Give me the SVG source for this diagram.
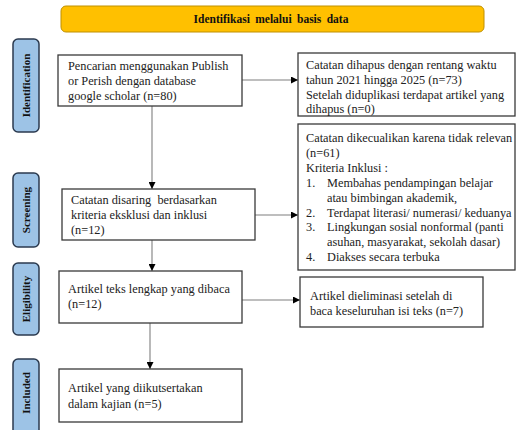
<svg xmlns="http://www.w3.org/2000/svg" width="519" height="430" viewBox="0 0 519 430">
<style>
.box{fill:#fff;stroke:#3a3a3a;stroke-width:1.3}
.side{fill:#9dc3e6;stroke:#2b3a4f;stroke-width:1.5}
.t{font-family:'Liberation Serif','Times New Roman',serif;font-size:12.3px;fill:#222}
.sl{font-family:'Liberation Serif','Times New Roman',serif;font-size:11px;font-weight:bold;fill:#111}
.bn{font-family:'Liberation Serif','Times New Roman',serif;font-size:11.5px;font-weight:bold;fill:#111}
.con{stroke:#7f7f7f;stroke-width:1.1;fill:none}
</style>
<defs>
<marker id="ah" viewBox="0 0 10 10" refX="10" refY="5" markerWidth="7" markerHeight="7" markerUnits="userSpaceOnUse" orient="auto">
<path d="M0,0 L10,5 L0,10 z" fill="#000"/>
</marker>
</defs>
<rect width="519" height="430" fill="#fff"/>
<g id="banner">
<rect x="61" y="6" width="423" height="26" rx="5" fill="#ffc000" stroke="#bf9000" stroke-width="1"/>
<text class="bn" x="271" y="23" text-anchor="middle" word-spacing="2.5">Identifikasi melalui basis data</text>
</g>
<g id="side-identification">
<rect class="side" x="13" y="39" width="26" height="93" rx="5"/>
<text class="sl" transform="translate(30,85.5) rotate(-90)" text-anchor="middle">Identification</text>
</g>
<g id="side-screening">
<rect class="side" x="13" y="173" width="26" height="74" rx="5"/>
<text class="sl" transform="translate(30,210) rotate(-90)" text-anchor="middle">Screening</text>
</g>
<g id="side-eligibility">
<rect class="side" x="13" y="263" width="26" height="72" rx="5"/>
<text class="sl" transform="translate(30,299) rotate(-90)" text-anchor="middle">Eligibility</text>
</g>
<g id="side-included">
<rect class="side" x="13" y="359" width="26" height="85" rx="5"/>
<text class="sl" transform="translate(30,393) rotate(-90)" text-anchor="middle">Included</text>
</g>
<g id="connectors">
<line class="con" x1="242" y1="80" x2="298" y2="80" marker-end="url(#ah)"/>
<line class="con" x1="152" y1="106" x2="152" y2="189" marker-end="url(#ah)"/>
<line class="con" x1="255" y1="215" x2="298" y2="215" marker-end="url(#ah)"/>
<line class="con" x1="152" y1="240" x2="152" y2="271" marker-end="url(#ah)"/>
<line class="con" x1="242" y1="300" x2="300" y2="300" marker-end="url(#ah)"/>
<line class="con" x1="150" y1="323" x2="150" y2="369" marker-end="url(#ah)"/>
</g>
<g id="search">
<rect class="box" x="58" y="55" width="184" height="51"/>
<text class="t" x="68" y="69.5">Pencarian menggunakan Publish</text>
<text class="t" x="68" y="84.5">or Perish dengan database</text>
<text class="t" x="68" y="99.5">google scholar (n=80)</text>
</g>
<g id="removed">
<rect class="box" x="298" y="53" width="217" height="63"/>
<text class="t" x="306" y="68.5">Catatan dihapus dengan rentang waktu</text>
<text class="t" x="306" y="83.5">tahun 2021 hingga 2025 (n=73)</text>
<text class="t" x="306" y="98.5">Setelah diduplikasi terdapat artikel yang</text>
<text class="t" x="306" y="112.5">dihapus (n=0)</text>
</g>
<g id="excluded">
<rect class="box" x="298" y="124" width="217" height="146"/>
<text class="t" x="306" y="142">Catatan dikecualikan karena tidak relevan</text>
<text class="t" x="306" y="156.9">(n=61)</text>
<text class="t" x="306" y="171.8">Kriteria Inklusi :</text>
<text class="t" x="306" y="186.7">1.</text>
<text class="t" x="327" y="186.7">Membahas pendampingan belajar</text>
<text class="t" x="327" y="201.6">atau bimbingan akademik,</text>
<text class="t" x="306" y="216.5">2.</text>
<text class="t" x="327" y="216.5">Terdapat literasi/ numerasi/ keduanya</text>
<text class="t" x="306" y="231.4">3.</text>
<text class="t" x="327" y="231.4">Lingkungan sosial nonformal (panti</text>
<text class="t" x="327" y="246.3">asuhan, masyarakat, sekolah dasar)</text>
<text class="t" x="306" y="261.2">4.</text>
<text class="t" x="327" y="261.2">Diakses secara terbuka</text>
</g>
<g id="screened">
<rect class="box" x="62" y="189" width="193" height="51"/>
<text class="t" x="71" y="204" xml:space="preserve">Catatan disaring  berdasarkan</text>
<text class="t" x="71" y="219">kriteria eksklusi dan inklusi</text>
<text class="t" x="71" y="234">(n=12)</text>
</g>
<g id="fulltext">
<rect class="box" x="59" y="271" width="183" height="52"/>
<text class="t" x="68" y="293">Artikel teks lengkap yang dibaca</text>
<text class="t" x="68" y="308">(n=12)</text>
</g>
<g id="eliminated">
<rect class="box" x="300" y="277" width="183" height="50"/>
<text class="t" x="310" y="299.5">Artikel dieliminasi setelah di</text>
<text class="t" x="310" y="314.5">baca keseluruhan isi teks (n=7)</text>
</g>
<g id="included">
<rect class="box" x="59" y="369" width="183" height="53"/>
<text class="t" x="68" y="391.5">Artikel yang diikutsertakan</text>
<text class="t" x="68" y="407.5">dalam kajian (n=5)</text>
</g>
</svg>
